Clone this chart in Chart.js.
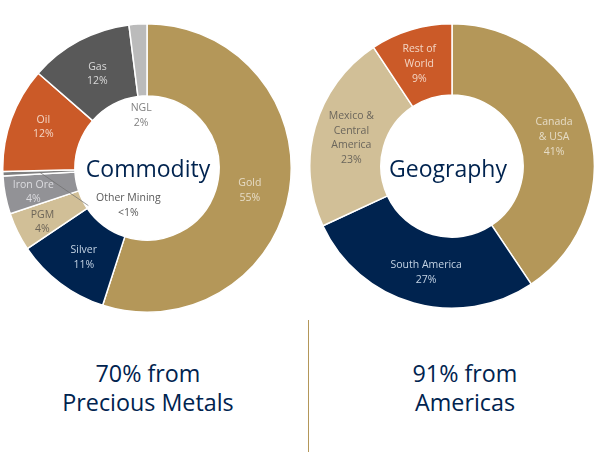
<!DOCTYPE html>
<html>
<head>
<meta charset="utf-8">
<script src="https://cdn.jsdelivr.net/npm/chart.js@4"></script>
<style>
  html, body { margin: 0; padding: 0; background: #fff; }
  #page { position: relative; width: 606px; height: 453px; overflow: hidden; font-family: "Open Sans", sans-serif; }
  canvas { position: absolute; }
  #commodityChart { left: 2px; top: 23px; }
  #geographyChart { left: 309px; top: 23px; }
  .caption { position: absolute; top: 359px; text-align: center; font-size: 23.3px; line-height: 28.5px; color: #00234f; white-space: nowrap; }
  #captionLeft { left: 0; width: 296px; }
  #captionRight { left: 318px; width: 294px; }
  #divider { position: absolute; left: 308px; top: 320px; width: 1px; height: 132px; background: #b49759; }
</style>
</head>
<body>
<div id="page">
  <canvas id="commodityChart" width="290" height="290"></canvas>
  <canvas id="geographyChart" width="286" height="286"></canvas>
  <div class="caption" id="captionLeft">70% from<br>Precious Metals</div>
  <div class="caption" id="captionRight">91% from<br>Americas</div>
  <div id="divider"></div>
</div>
<script>
const commodityLabels = ["Gold", "Silver", "PGM", "Iron Ore", "Other Mining", "Oil", "Gas", "NGL"];
const commodityValues = [55, 10.6, 4.3, 4.25, 0.5, 11.8, 11.6, 2];
const commodityShown = ["55%", "11%", "4%", "4%", "<1%", "12%", "12%", "2%"];

const geographyLabels = [["Canada", "& USA"], ["South America"], ["Mexico &", "Central", "America"], ["Rest of", "World"]];
const geographyValues = [40.6, 27.5, 22.6, 9.3];
const geographyShown = ["41%", "27%", "23%", "9%"];

const navy = "#00234f";

// draws the text on the slices, moved by hand from each slice centre
const sliceText = {
  id: "sliceText",
  afterDraw(chart, args, opts) {
    const ctx = chart.ctx;
    const arcs = chart.getDatasetMeta(0).data;
    ctx.save();
    ctx.textAlign = "center";
    ctx.textBaseline = "middle";

    if (opts.leader !== undefined) {
      const c = arcs[opts.leader].getCenterPoint();
      const off = opts.offsets[opts.leader];
      ctx.strokeStyle = "#6f6f6f";
      ctx.lineWidth = 0.7;
      ctx.beginPath();
      ctx.moveTo(c.x + 1, c.y);
      ctx.lineTo(c.x + off[0] - 40, c.y + off[1]);
      ctx.stroke();
    }

    ctx.font = '10.5px "Open Sans"';
    opts.lines.forEach((lines, i) => {
      const c = arcs[i].getCenterPoint();
      const off = opts.offsets[i];
      const top = c.y + off[1] - (lines.length - 1) * 14.7 / 2;
      ctx.fillStyle = opts.colors[i];
      lines.forEach((t, j) => ctx.fillText(t, c.x + off[0], top + j * 14.7));
    });

    const mid = arcs[0];
    ctx.font = '23px "Open Sans"';
    ctx.fillStyle = navy;
    ctx.fillText(opts.title, mid.x + opts.titleShift[0], mid.y + opts.titleShift[1]);
    ctx.restore();
  },
};

function makeDonut(id, labels, values, colors, textOpts) {
  return new Chart(document.getElementById(id).getContext("2d"), {
    type: "doughnut",
    plugins: [sliceText],
    data: {
      labels: labels,
      datasets: [
        {
          data: values,
          backgroundColor: colors,
          borderColor: "#ffffff",
          borderWidth: 1.5,
        },
      ],
    },
    options: {
      responsive: false,
      animation: false,
      cutout: "50%",
      plugins: {
        legend: { display: false },
        tooltip: { enabled: false },
        sliceText: textOpts,
      },
    },
  });
}

makeDonut(
  "commodityChart",
  commodityLabels,
  commodityValues,
  ["#b49759", navy, "#d1bf97", "#929296", "#7f7f7f", "#cb5a28", "#595959", "#bbbbbb"],
  {
    title: "Commodity",
    titleShift: [1, 2],
    leader: 4,
    lines: commodityLabels.map((l, i) => [l, commodityShown[i]]),
    offsets: [[-4, 6], [1.8, 3.1], [-7.5, 6.3], [-7.4, 3.8], [89.5, 33.3], [-1.9, -4.3], [1.3, 1.6], [1, 55.5]],
    colors: ["#e6dcc6", "#c3d3e4", "#6d6558", "#dcdce0", "#595959", "#f3d5c4", "#d9d9d9", "#808080"],
  }
);

makeDonut(
  "geographyChart",
  geographyLabels,
  geographyValues,
  ["#b49759", navy, "#d1bf97", "#cb5a28"],
  {
    title: "Geography",
    titleShift: [-4, 4],
    lines: geographyLabels.map((l, i) => l.concat(geographyShown[i])),
    offsets: [[0, 2], [3, 4], [2, 1], [-2, 0]],
    colors: ["#e6dcc6", "#c3d3e4", "#6b665c", "#f3d5c4"],
  }
);
</script>
</body>
</html>
